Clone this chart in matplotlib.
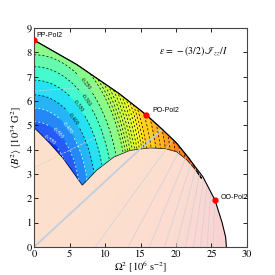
import numpy as np
import matplotlib
matplotlib.use('Agg')
from matplotlib import pyplot as plt
from matplotlib.path import Path
from matplotlib.patches import PathPatch
from matplotlib.colors import TwoSlopeNorm, LinearSegmentedColormap

plt.rcParams['font.family'] = 'STIXGeneral'
plt.rcParams['mathtext.fontset'] = 'stix'

# outer boundary of the solution space (Omega^2, <B^2>)
outer_x = [0.0, 3.0, 6.0, 9.0, 12.0, 15.8, 18.0, 20.1, 21.8, 23.8, 25.5, 26.5, 27.0, 27.1]
outer_y = [8.5, 8.0, 7.5, 6.9, 6.3, 5.43, 4.85, 4.26, 3.65, 2.88, 1.92, 1.0, 0.4, 0.0]
# lower-left edge of the Pol2 region (left axis -> cusp)
edge_x = [0.0, 0.38, 2.25, 4.13, 6.8]
edge_y = [4.9, 4.81, 4.26, 3.64, 2.55]
# top of the lower branch (cusp -> outer boundary)
dome_x = [6.8, 8.8, 11.2, 13.5, 16.3, 18.5, 20.1, 21.5, 22.7, 23.6]
dome_y = [2.55, 3.16, 3.7, 3.98, 4.08, 4.05, 3.92, 3.6, 3.2, 2.82]

# ellipticity vs. elliptical radius measured from (0, 2)
r_knots = [2.0, 2.5, 3.15, 3.71, 4.25, 4.86, 5.41, 5.9, 6.4, 8.0, 10.5, 13.0]
eps_knots = [-0.60, -0.56, -0.50, -0.45, -0.40, -0.35, -0.30, -0.25, -0.20, -0.10, -0.02, 0.0]
fill_levels = [-0.65, -0.6, -0.55, -0.5, -0.45, -0.4, -0.35, -0.3, -0.25, -0.2,
               -0.18, -0.16, -0.14, -0.12, -0.1, -0.08, -0.06, -0.04, -0.02, 0.0]
line_levels = [-0.55, -0.5, -0.45, -0.4, -0.35, -0.3, -0.25, -0.2,
               -0.19, -0.18, -0.17, -0.16, -0.15, -0.14, -0.13, -0.12, -0.11, -0.1,
               -0.09, -0.08, -0.07, -0.06, -0.05, -0.04, -0.03, -0.02, -0.01]
label_pos = [(8.0, 6.9), (7.5, 6.1), (6.2, 5.8), (5.6, 5.3), (5.0, 4.95), (3.5, 4.7), (2.4, 4.5)]

# background branch: angle seen from a point beyond the plot
focus = (26.0, 7.0)
bg_levels = [-0.24, -0.12, 0.12, 0.24, 0.36, 0.48, 0.6, 0.72, 0.84, 0.96, 1.08, 1.2]

points = {'PP-Pol2': (0.0, 8.5), 'PO-Pol2': (15.8, 5.43), 'OO-Pol2': (25.5, 1.92)}

fig = plt.figure(figsize=(2.75, 2.75), dpi=100)
ax = fig.add_axes([0.124, 0.102, 0.774, 0.796])

X, Y = np.meshgrid(np.linspace(0, 30, 601), np.linspace(0, 9, 361))

# background region under the outer boundary
bg_path = Path(list(zip([0.0] + outer_x, [0.0] + outer_y)) + [(0.0, 0.0)])
bg_patch = PathPatch(bg_path, facecolor='none', edgecolor='none', transform=ax.transData)
ax.add_patch(bg_patch)
G = np.arctan2(focus[1] - Y, focus[0] - X) - np.arctan2(focus[1], focus[0])
bg_cmap = LinearSegmentedColormap.from_list('bg', ['#fde2c9', '#fde0cc', '#fbd9d3', '#f8d0d0'])
cs = ax.contourf(X, Y, G, levels=np.linspace(-1, 1.6, 40), cmap=bg_cmap)
cs.set_clip_path(bg_patch)
cl = ax.contour(X, Y, G, levels=bg_levels, colors='#cfd0d6', linewidths=0.5)
cl.set_clip_path(bg_patch)
c0 = ax.contour(X, Y, G, levels=[0.0], colors='#c3cedc', linewidths=1.3)
c0.set_clip_path(bg_patch)

# Pol2 region
ox = [v for v in outer_x if v < dome_x[-1]]
oy = outer_y[:len(ox)]
reg = (list(zip(ox, oy)) + list(zip(dome_x[::-1], dome_y[::-1]))
       + list(zip(edge_x[::-1], edge_y[::-1])))
reg_path = Path(reg + [reg[0]])
reg_patch = PathPatch(reg_path, facecolor='none', edgecolor='k', lw=0.8, transform=ax.transData)
ax.add_patch(reg_patch)

R = np.sqrt((X / 2.05) ** 2 + (Y - 2.0) ** 2)
E = np.interp(R, r_knots, eps_knots)
norm = TwoSlopeNorm(vmin=-0.72, vcenter=-0.22, vmax=0.113)
cf = ax.contourf(X, Y, E, levels=fill_levels, cmap='jet', norm=norm, alpha=0.85)
cf.set_clip_path(reg_patch)
line_cols = ['w' if v < -0.42 else 'k' for v in line_levels]
cc = ax.contour(X, Y, E, levels=line_levels, colors=line_cols, linewidths=0.5,
                linestyles=[(0, (3, 3))])
cc.set_clip_path(reg_patch)
lab = ax.clabel(cc, levels=line_levels[:7], fmt='%.3f', fontsize=4, manual=label_pos, inline=True)

ax.plot(outer_x, outer_y, color='k', lw=0.8)
for name, (px, py) in points.items():
    ax.plot(px, py, 'o', color='red', ms=3.5, zorder=5)
ax.text(0.35, 8.62, 'PP-Pol2', fontsize=5, family='Liberation Sans')
ax.text(16.6, 5.55, 'PO-Pol2', fontsize=5, family='Liberation Sans')
ax.text(26.3, 1.98, 'OO-Pol2', fontsize=5, family='Liberation Sans')
ax.text(22.4, 7.95, r'$\epsilon\,=\,-(3/2)\,\mathscr{I}_{zz}/I$', fontsize=7, ha='center')

ax.set_xlim(0, 30)
ax.set_ylim(0, 9)
ax.set_xticks([0, 5, 10, 15, 20, 25, 30])
ax.set_yticks(range(10))
ax.tick_params(direction='in', top=True, right=True, labelsize=7.5, length=3, width=0.6, pad=1.5)
for s in ax.spines.values():
    s.set_linewidth(0.8)
    s.set_color('#444444')
ax.set_xlabel(r'$\Omega^2$ [10$^6$ s$^{-2}$]', fontsize=7.5, labelpad=0)
ax.set_ylabel(r'$\langle B^2\rangle$ [10$^{34}$ G$^2$]', fontsize=7.5, labelpad=2)

fig.savefig('out.png', dpi=100)
